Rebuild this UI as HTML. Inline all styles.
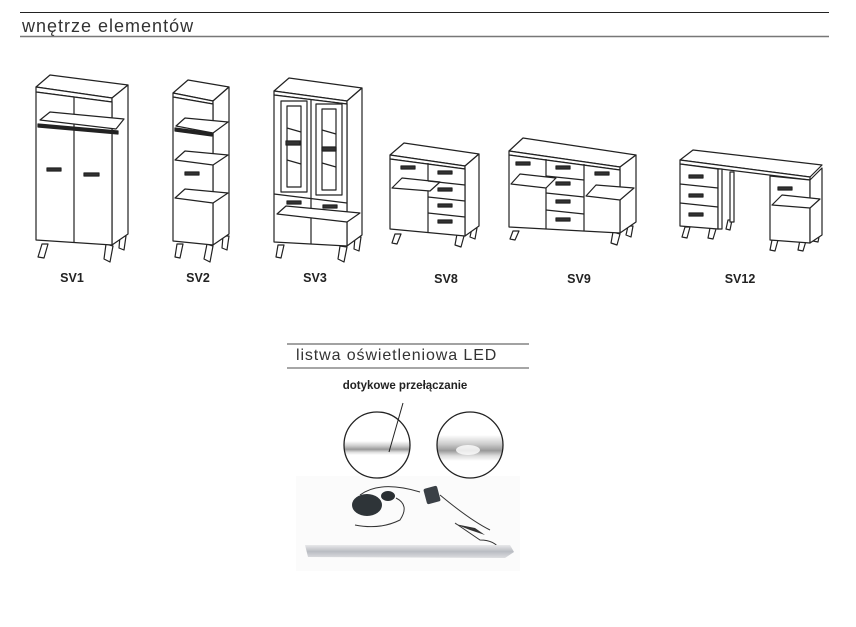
<!DOCTYPE html>
<html><head><meta charset="utf-8"><style>
html,body{margin:0;padding:0;background:#fff;}
body{width:856px;height:627px;overflow:hidden;}
svg{display:block;}
</style></head><body>
<svg width="856" height="627" viewBox="0 0 856 627" xmlns="http://www.w3.org/2000/svg" font-family="'Liberation Sans', sans-serif">
<defs>
<linearGradient id="bar" x1="0" y1="0" x2="0" y2="1"><stop offset="0" stop-color="#e8e8ea"/><stop offset="0.5" stop-color="#b9bcc2"/><stop offset="1" stop-color="#dcdde0"/></linearGradient>
<linearGradient id="c2" x1="0" y1="0" x2="0" y2="1"><stop offset="0" stop-color="#fff"/><stop offset="0.35" stop-color="#ccc"/><stop offset="0.6" stop-color="#999"/><stop offset="0.8" stop-color="#ddd"/><stop offset="1" stop-color="#fff"/></linearGradient>
<clipPath id="cl1"><circle cx="377" cy="445" r="33"/></clipPath>
<clipPath id="cl2"><circle cx="470" cy="445" r="33"/></clipPath>
</defs>
<line x1="20" y1="12.5" x2="829" y2="12.5" stroke="#222" stroke-width="1"/>
<text x="22" y="32" font-size="18" fill="#333" letter-spacing="1">wnętrze elementów</text>
<line x1="20" y1="36.5" x2="829" y2="36.5" stroke="#777" stroke-width="1.5"/>

<g stroke="#222" stroke-width="1.2" fill="#fff" stroke-linejoin="round">
<path d="M42 244 L48 244 L44 258 L38 257 Z M106 244 L113 246 L110 262 L104 259 Z M120 236 L126 236 L124 250 L119 248 Z"/>
<polygon points="36,87 50,75 128,85 112,98"/>
<polygon points="36,87 112,98 112,102 36,92"/>
<polygon points="112,98 128,85 128,234 112,245"/>
<polygon points="36,92 112,102 112,245 36,240"/>
<line x1="74" y1="97" x2="74" y2="242"/>
<polygon points="40,120 50,112 124,119 116,129" fill="#fff"/>
<path d="M38 124 L118 131 L118 134 L38 127 Z" fill="#222"/>
<rect x="47" y="168" width="14" height="3" fill="#333"/><rect x="84" y="173" width="15" height="3" fill="#333"/>
<path d="M177 244 L183 244 L180 258 L175 257 Z M207 244 L213 246 L210 262 L204 259 Z M223 236 L229 236 L227 250 L222 248 Z"/>
<polygon points="173,93 188,80 229,87 213,101"/>
<polygon points="173,93 213,101 213,104 173,97"/>
<polygon points="213,101 229,87 229,234 213,245"/>
<polygon points="173,97 213,104 213,245 173,241"/>
<polygon points="176,126 185,118 228,122 213,133"/>
<path d="M175 128 L212 133 L212 136 L175 131 Z" fill="#222"/>
<polygon points="175,160 185,151 228,155 213,165"/>
<polygon points="175,198 185,189 228,193 213,203"/>
<rect x="185" y="172" width="14" height="3" fill="#333"/>
<path d="M278 245 L284 245 L281 258 L276 257 Z M340 246 L347 247 L344 262 L338 259 Z M355 237 L361 237 L359 251 L354 249 Z"/>
<polygon points="274,91 289,78 362,88 347,101"/>
<polygon points="274,91 347,101 347,104 274,95"/>
<polygon points="347,101 362,88 362,235 347,246"/>
<polygon points="274,95 347,104 347,246 274,242"/>
<line x1="311" y1="99" x2="311" y2="244"/>
<rect x="281" y="101" width="26" height="91" fill="#fff"/>
<rect x="287" y="106" width="14" height="81" fill="none"/>
<rect x="316" y="104" width="26" height="91" fill="#fff"/>
<rect x="322" y="109" width="14" height="81" fill="none"/>
<line x1="287" y1="128" x2="301" y2="132"/><line x1="287" y1="160" x2="301" y2="164"/>
<line x1="322" y1="130" x2="336" y2="134"/><line x1="322" y1="163" x2="336" y2="167"/>
<rect x="286" y="141" width="14" height="4" fill="#333"/><rect x="322" y="147" width="14" height="4" fill="#333"/>
<line x1="274" y1="194" x2="347" y2="203"/>
<polygon points="277,214 286,206 360,213 347,222"/>
<rect x="287" y="201" width="14" height="3" fill="#333"/><rect x="323" y="205" width="14" height="3" fill="#333"/>
<path d="M395 234 L401 234 L397 244 L392 243 Z M457 234 L464 236 L461 247 L455 245 Z M472 228 L477 228 L475 239 L470 237 Z"/>
<polygon points="390,155 404,143 479,154 465,166"/>
<polygon points="390,155 465,166 465,169 390,159"/>
<polygon points="465,166 479,154 479,226 465,236"/>
<polygon points="390,159 465,169 465,236 390,229"/>
<line x1="428" y1="163" x2="428" y2="233"/>
<polygon points="392,188 402,178 440,182 430,191"/>
<line x1="428" y1="181" x2="465" y2="185"/><line x1="428" y1="197" x2="465" y2="201"/><line x1="428" y1="213" x2="465" y2="217"/>
<rect x="401" y="166" width="14" height="3" fill="#333"/><rect x="438" y="171" width="14" height="3" fill="#333"/>
<rect x="438" y="188" width="14" height="3" fill="#333"/><rect x="438" y="204" width="14" height="3" fill="#333"/><rect x="438" y="220" width="14" height="3" fill="#333"/>
<path d="M513 231 L519 231 L515 240 L510 239 Z M613 232 L620 234 L617 245 L611 243 Z M628 226 L633 226 L631 237 L626 235 Z"/>
<polygon points="509,151 523,138 636,155 620,167"/>
<polygon points="509,151 620,167 620,170 509,155"/>
<polygon points="620,167 636,155 636,222 620,233"/>
<polygon points="509,155 620,170 620,233 509,227"/>
<line x1="546" y1="159" x2="546" y2="229"/><line x1="584" y1="164" x2="584" y2="231"/>
<polygon points="511,184 520,174 556,178 546,188"/>
<polygon points="586,196 596,185 634,188 620,200"/>
<line x1="546" y1="176" x2="584" y2="180"/><line x1="546" y1="193" x2="584" y2="197"/><line x1="546" y1="210" x2="584" y2="214"/>
<rect x="516" y="162" width="14" height="3" fill="#333"/><rect x="556" y="166" width="14" height="3" fill="#333"/>
<rect x="556" y="182" width="14" height="3" fill="#333"/><rect x="556" y="200" width="14" height="3" fill="#333"/><rect x="556" y="218" width="14" height="3" fill="#333"/>
<rect x="595" y="172" width="14" height="3" fill="#333"/>
<path d="M685 227 L690 227 L687 238 L682 237 Z M710 228 L716 229 L713 239 L708 238 Z M728 220 L732 220 L730 230 L726 229 Z M772 240 L778 240 L775 251 L770 250 Z M800 240 L806 241 L803 251 L798 250 Z M815 232 L820 232 L818 242 L813 241 Z"/>
<polygon points="680,160 693,150 822,165 810,177"/>
<polygon points="680,160 810,177 810,180 680,164"/>
<polygon points="680,164 718,169 718,229 680,226"/>
<polygon points="718,169 722,169 722,229 718,229"/>
<rect x="730" y="172" width="4" height="50"/>
<line x1="680" y1="184" x2="718" y2="188"/><line x1="680" y1="203" x2="718" y2="207"/>
<rect x="689" y="175" width="14" height="3" fill="#333"/><rect x="689" y="194" width="14" height="3" fill="#333"/><rect x="689" y="213" width="14" height="3" fill="#333"/>
<polygon points="770,176 810,180 810,243 770,240"/>
<polygon points="810,180 822,168 822,235 810,243"/>
<polygon points="772,205 782,195 820,199 810,208"/>
<rect x="778" y="187" width="14" height="3" fill="#333"/>
</g>
<g font-size="12.5" font-weight="bold" fill="#222" text-anchor="middle">
<text x="72" y="282">SV1</text><text x="198" y="282">SV2</text><text x="315" y="282">SV3</text>
<text x="446" y="283">SV8</text><text x="579" y="283">SV9</text><text x="740" y="283">SV12</text>
</g>

<line x1="287" y1="344" x2="529" y2="344" stroke="#444" stroke-width="1"/>
<text x="296" y="360" font-size="16" fill="#333" letter-spacing="0.9">listwa oświetleniowa LED</text>
<line x1="287" y1="368" x2="529" y2="368" stroke="#888" stroke-width="1.5"/>
<text x="405" y="389" font-size="11.5" font-weight="bold" fill="#222" text-anchor="middle">dotykowe przełączanie</text>

<rect x="296" y="476" width="224" height="95" fill="#fbfbfb"/>

<g clip-path="url(#cl1)"><rect x="340" y="405" width="80" height="80" fill="#fff"/>
<rect x="340" y="441" width="80" height="14" fill="url(#c2)"/></g>
<circle cx="377" cy="445" r="33" fill="none" stroke="#222" stroke-width="1.3"/>
<line x1="403" y1="403" x2="389" y2="452" stroke="#222" stroke-width="1"/>
<g clip-path="url(#cl2)"><rect x="430" y="405" width="80" height="80" fill="#fff"/>
<rect x="430" y="435" width="80" height="26" fill="url(#c2)"/><ellipse cx="468" cy="450" rx="12" ry="5" fill="#fff" opacity="0.8"/></g>
<circle cx="470" cy="445" r="33" fill="none" stroke="#222" stroke-width="1.3"/>

<ellipse cx="367" cy="505" rx="15" ry="11" fill="#2e3438"/>
<ellipse cx="388" cy="496" rx="7" ry="5" fill="#2a2f33"/>
<rect x="425" y="487" width="14" height="16" rx="2" fill="#3a4046" transform="rotate(-15 432 495)"/>
<path d="M360 495 Q380 480 420 492 M396 498 Q410 505 400 520 Q380 530 355 525 M440 495 Q470 520 490 530 M455 523 L480 540 Q495 540 500 550" stroke="#333" stroke-width="1" fill="none"/>
<path d="M455 524 L470 530 L485 535 L475 528 Z" fill="#333"/>
<polygon points="305,545 510,545 514,552 505,558 308,557" fill="url(#bar)"/>
</svg>
</body></html>
